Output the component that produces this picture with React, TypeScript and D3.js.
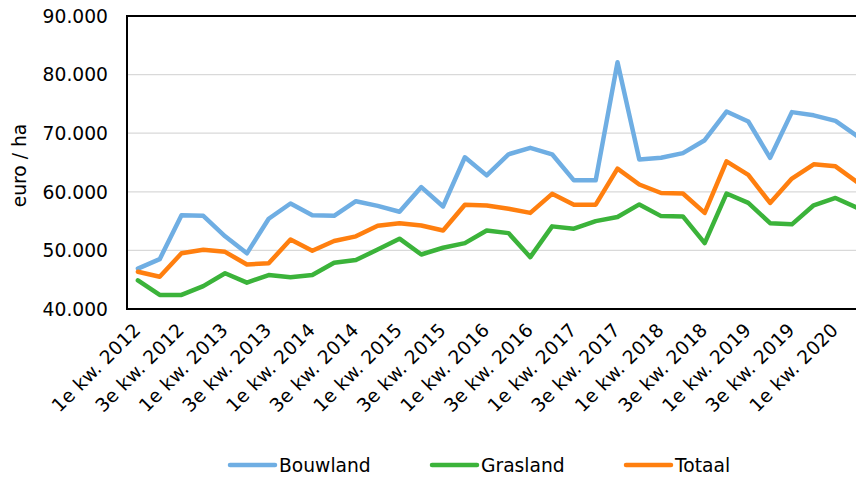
import React, { useEffect, useRef } from "react";
import * as d3 from "d3";

// kwartalen, 1e kw. 2012 t/m 2e kw. 2020
const quarters = [
  "1e kw. 2012", "2e kw. 2012", "3e kw. 2012", "4e kw. 2012",
  "1e kw. 2013", "2e kw. 2013", "3e kw. 2013", "4e kw. 2013",
  "1e kw. 2014", "2e kw. 2014", "3e kw. 2014", "4e kw. 2014",
  "1e kw. 2015", "2e kw. 2015", "3e kw. 2015", "4e kw. 2015",
  "1e kw. 2016", "2e kw. 2016", "3e kw. 2016", "4e kw. 2016",
  "1e kw. 2017", "2e kw. 2017", "3e kw. 2017", "4e kw. 2017",
  "1e kw. 2018", "2e kw. 2018", "3e kw. 2018", "4e kw. 2018",
  "1e kw. 2019", "2e kw. 2019", "3e kw. 2019", "4e kw. 2019",
  "1e kw. 2020", "2e kw. 2020",
];

const bouwland = [
  46900, 48500, 56000, 55900, 52400, 49500, 55400, 58000,
  56000, 55900, 58400, 57600, 56600, 60800, 57500, 65900,
  62800, 66400, 67500, 66400, 61950, 61950, 82100, 65500,
  65800, 66600, 68800, 73700, 72000, 65800, 73600, 73050,
  72100, 69500,
];

const grasland = [
  44900, 42400, 42400, 43900, 46100, 44500, 45800, 45400,
  45800, 47900, 48350, 50150, 52000, 49300, 50450, 51250,
  53400, 52950, 48850, 54100, 53700, 55000, 55700, 57850,
  55850, 55800, 51250, 59700, 58100, 54650, 54450, 57700,
  58950, 57250,
];

const totaal = [
  46350, 45500, 49500, 50100, 49750, 47600, 47800, 51850,
  49950, 51600, 52400, 54200, 54650, 54250, 53400, 57800,
  57650, 57100, 56400, 59650, 57800, 57800, 63950, 61250,
  59800, 59700, 56400, 65200, 62900, 58100, 62250, 64700,
  64350, 61650,
];

const yTicks = [40000, 50000, 60000, 70000, 80000, 90000];

const seriesNames = ["Bouwland", "Grasland", "Totaal"];
const seriesColors = ["#6FAEE3", "#3BB33A", "#FF7F0F"];

const W = 856;
const H = 480;
const FONT = "'DejaVu Sans', Verdana, sans-serif";

const App = () => {
  const ref = useRef<SVGSVGElement | null>(null);

  useEffect(() => {
    const svg = d3.select(ref.current);
    svg.selectAll("*").remove();

    const left = 127;
    const top = 16;
    const bottom = 309;
    const step = 21.8;

    const x = d3
      .scaleBand<string>()
      .domain(quarters)
      .range([left, left + quarters.length * step]);

    const y = d3.scaleLinear().domain([40000, 90000]).range([bottom, top]);

    const fmt = (v: number) => d3.format(",")(v).replace(/,/g, ".");

    // rasterlijnen
    svg
      .append("g")
      .selectAll("line")
      .data(yTicks.slice(1, -1))
      .enter()
      .append("line")
      .attr("x1", left)
      .attr("x2", W)
      .attr("y1", (d) => y(d))
      .attr("y2", (d) => y(d))
      .attr("stroke", "#D9D9D9")
      .attr("stroke-width", 1.3);

    // assen en rand
    const axisG = svg.append("g").attr("stroke", "#000").attr("stroke-width", 2);
    axisG.append("line").attr("x1", left).attr("x2", W).attr("y1", y(90000)).attr("y2", y(90000));
    axisG.append("line").attr("x1", left).attr("x2", W).attr("y1", y(40000)).attr("y2", y(40000));
    axisG.append("line").attr("x1", left).attr("x2", left).attr("y1", y(90000) - 1).attr("y2", y(40000) + 1);

    // y-as labels
    svg
      .append("g")
      .selectAll("text")
      .data(yTicks)
      .enter()
      .append("text")
      .attr("x", 108)
      .attr("y", (d) => y(d))
      .attr("dy", "0.36em")
      .attr("text-anchor", "end")
      .style("font-family", FONT)
      .style("font-size", "18.7px")
      .attr("fill", "#000")
      .text((d) => fmt(d));

    svg
      .append("text")
      .attr("transform", "translate(26," + (y(65000) + 3) + ") rotate(-90)")
      .attr("text-anchor", "middle")
      .style("font-family", FONT)
      .style("font-size", "18.7px")
      .text("euro / ha");

    // x-as labels, om het kwartaal
    svg
      .append("g")
      .selectAll("text")
      .data(quarters.filter((_, i) => i % 2 === 0))
      .enter()
      .append("text")
      .attr("transform", (d) => {
        const cx = (x(d) as number) + x.bandwidth() / 2;
        return "translate(" + (cx + 4) + "," + (bottom + 22) + ") rotate(-45)";
      })
      .attr("text-anchor", "end")
      .style("font-family", FONT)
      .style("font-size", "18.7px")
      .style("letter-spacing", "0.3px")
      .text((d) => d);

    // lijnen
    const line = d3
      .line<number>()
      .x((_, i) => (x(quarters[i]) as number) + x.bandwidth() / 2)
      .y((d) => y(d));

    const allSeries = [bouwland, grasland, totaal];
    svg
      .append("g")
      .selectAll("path")
      .data(allSeries)
      .enter()
      .append("path")
      .attr("d", (d) => line(d))
      .attr("fill", "none")
      .attr("stroke", (_, i) => seriesColors[i])
      .attr("stroke-width", 4.5)
      .attr("stroke-linejoin", "round")
      .attr("stroke-linecap", "round");

    // legenda
    const legendX = [230, 432, 626];
    const lg = svg
      .append("g")
      .selectAll("g")
      .data(seriesNames)
      .enter()
      .append("g")
      .attr("transform", (_, i) => "translate(" + legendX[i] + ",465)");
    lg.append("line")
      .attr("x1", 0)
      .attr("x2", 45)
      .attr("stroke", (_, i) => seriesColors[i])
      .attr("stroke-width", 4.5)
      .attr("stroke-linecap", "round");
    lg.append("text")
      .attr("x", 49)
      .attr("dy", "0.36em")
      .style("font-family", FONT)
      .style("font-size", "18.7px")
      .text((d) => d);
  }, []);

  return (
    <svg
      ref={ref}
      width={W}
      height={H}
      style={{ position: "absolute", left: 0, top: 0, background: "#fff" }}
    />
  );
};

export default App;
